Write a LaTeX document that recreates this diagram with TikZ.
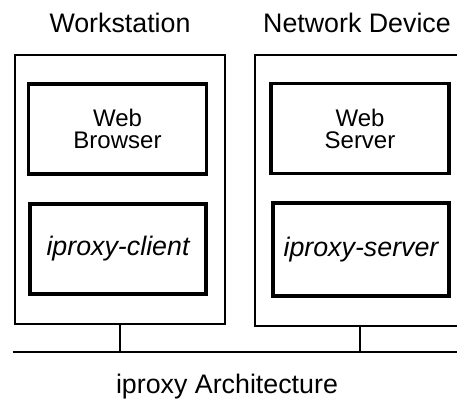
\documentclass[tikz,border=0pt]{standalone}
\usepackage{fontspec}
\setmainfont{Liberation Sans}
\begin{document}
\begin{tikzpicture}[x=0.5pt,y=-0.5pt,
    host/.style={draw,line width=1pt,minimum width=105pt,minimum height=134.5pt,inner sep=0pt},
    app/.style={draw,line width=1.6pt,minimum width=89pt,minimum height=45pt,inner sep=0pt,align=center,font=\fontsize{12}{11}\selectfont},
    proxy/.style={app,font=\fontsize{13.4}{16}\selectfont\itshape},
    title/.style={anchor=base,inner sep=0pt,font=\fontsize{13.4}{16}\selectfont}]
      \useasboundingbox (0,0) rectangle (457,405);
      \node[host] (ws) at (120,189.5) {};
      \node[host,minimum height=135.5pt] (nd) at (360,190.5) {};
      \node[title] (wslabel) at (120,33) {Workstation};
      \node[title] (ndlabel) at (357,33) {Network Device};
      \node[app] (browser) at (117.5,129) {Web\\Browser};
      \node[app] (server) at (360,128.5) {Web\\Server};
      \node[proxy,minimum width=88pt] (client) at (118,249) {iproxy-client};
      \node[proxy,minimum width=88pt,minimum height=46.5pt] (proxyserver) at (361,249.5) {iproxy-server};
      \coordinate (busL) at (13,352);
      \coordinate (busR) at (470,352);
      \draw[line width=1pt] (busL) -- (busR);
      \draw[line width=1pt] (ws.south) -- (ws.south |- busL);
      \draw[line width=1pt] (nd.south) -- (nd.south |- busL);
      \node[title] (caption) at (227,394) {iproxy Architecture};
\end{tikzpicture}
\end{document}
